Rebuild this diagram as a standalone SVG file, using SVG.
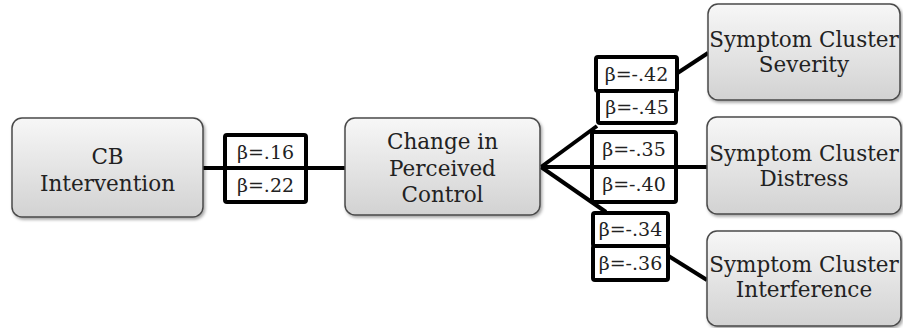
<svg xmlns="http://www.w3.org/2000/svg" width="903" height="328" viewBox="0 0 903 328">
<defs>
<linearGradient id="g" x1="0" y1="0" x2="0" y2="1">
<stop offset="0" stop-color="#f7f7f7"/>
<stop offset="1" stop-color="#d2d2d2"/>
</linearGradient>
<filter id="sh" x="-10%" y="-10%" width="130%" height="130%">
<feDropShadow dx="1.5" dy="2" stdDeviation="1.5" flood-color="#000" flood-opacity="0.35"/>
</filter>
</defs>
<style>
.node rect{fill:url(#g);stroke:#4a4a4a;stroke-width:1.5;filter:url(#sh)}
.node text{font-family:"DejaVu Serif","Liberation Serif",serif;font-size:21.5px;fill:#222;text-anchor:middle}
.conn line{stroke:#000;stroke-width:4}
.beta rect{fill:#fff;stroke:#000;stroke-width:4}
.beta text{font-family:"DejaVu Serif","Liberation Serif",serif;font-size:19px;fill:#222;text-anchor:middle}
</style>
<rect width="903" height="328" fill="#fff"/>
<g id="connectors" class="conn">
<line x1="203" y1="168" x2="345" y2="168"/>
<line x1="541" y1="167" x2="597" y2="126"/>
<line x1="541" y1="167" x2="707" y2="167"/>
<line x1="541" y1="167" x2="606" y2="212"/>
<line x1="676" y1="74" x2="708" y2="53"/>
<line x1="667" y1="255" x2="707" y2="280"/>
</g>
<g id="n-cb" class="node">
<rect x="12" y="118" width="191" height="99" rx="10"/>
<text x="107.5" y="164">CB</text>
<text x="107.5" y="191">Intervention</text>
</g>
<g id="n-change" class="node">
<rect x="345" y="118" width="195" height="97" rx="10"/>
<text x="442.5" y="149">Change in</text>
<text x="442.5" y="176">Perceived</text>
<text x="442.5" y="202">Control</text>
</g>
<g id="n-severity" class="node">
<rect x="708" y="4" width="192" height="96" rx="10"/>
<text x="804" y="47">Symptom Cluster</text>
<text x="804" y="72">Severity</text>
</g>
<g id="n-distress" class="node">
<rect x="707" y="117" width="194" height="97" rx="10"/>
<text x="804" y="161">Symptom Cluster</text>
<text x="804" y="186">Distress</text>
</g>
<g id="n-interference" class="node">
<rect x="707" y="231" width="194" height="95" rx="10"/>
<text x="804" y="272">Symptom Cluster</text>
<text x="804" y="297">Interference</text>
</g>
<g id="betas" class="beta">
<rect x="225" y="135" width="81" height="33" rx="2"/>
<text x="265.5" y="159">β=.16</text>
<rect x="225" y="168" width="81" height="34" rx="2"/>
<text x="265.5" y="192">β=.22</text>
<rect x="596" y="57" width="81" height="34" rx="2"/>
<text x="636.5" y="81">β=-.42</text>
<rect x="598" y="91" width="78" height="32" rx="2"/>
<text x="637" y="114">β=-.45</text>
<rect x="592" y="132" width="84" height="35" rx="2"/>
<text x="634" y="156">β=-.35</text>
<rect x="592" y="167" width="84" height="35" rx="2"/>
<text x="634" y="191">β=-.40</text>
<rect x="593" y="213" width="75" height="33" rx="2"/>
<text x="630.5" y="236">β=-.34</text>
<rect x="593" y="246" width="75" height="34" rx="2"/>
<text x="630.5" y="270">β=-.36</text>
</g>
</svg>
